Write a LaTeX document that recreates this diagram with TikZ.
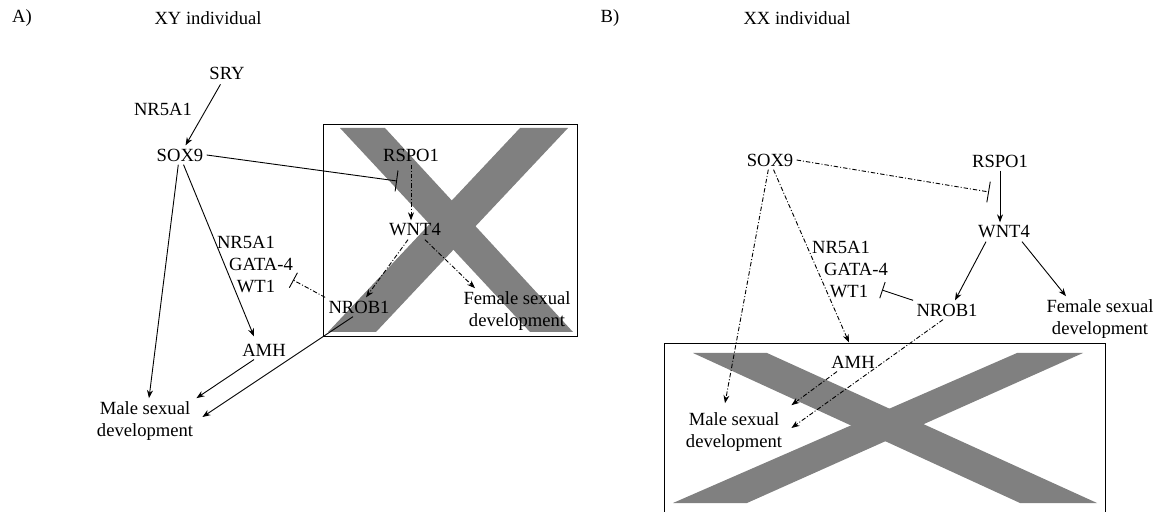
\documentclass[tikz,border=0pt]{standalone}
\usepackage{fontspec}
\setmainfont{Liberation Serif}
\usetikzlibrary{arrows.meta,positioning}

\definecolor{xgray}{RGB}{128,128,128}
\newcommand{\genesize}{\fontsize{9.3}{11}\selectfont}

\tikzset{
  gene/.style={inner sep=1.5pt, font=\genesize},
  genetwo/.style={gene, align=center},
  act/.style={-{Stealth[length=4pt,width=3pt]}, line width=0.45pt},
  inh/.style={-{Bar[width=10.5pt]}, line width=0.45pt},
  inhs/.style={-{Bar[width=8.5pt]}, line width=0.45pt},
  ddline/.style={dash pattern=on 2.2pt off 1pt on 0.5pt off 1pt},
  xband/.style={fill=xgray, draw=none},
}

\begin{document}
\begin{tikzpicture}[x=0.5pt, y=-0.5pt]
  \useasboundingbox (0,0) rectangle (1165,512);

  % Crossed-out boxes
  \fill[xband] (340,128) -- (385,128) -- (573,332) -- (530,332) -- cycle;
  \fill[xband] (520,128) -- (568,128) -- (376,332) -- (328,332) -- cycle;
  \draw[line width=0.5pt] (323,125) rectangle (577,337);
  \fill[xband] (693,353) -- (767,353) -- (1097,503) -- (1020,503) -- cycle;
  \fill[xband] (1017,353) -- (1083,353) -- (747,503) -- (673,503) -- cycle;
  \draw[line width=0.5pt] (664,512) |- (1105,344) -- (1105,512);

  % Define nodes (A)
  \node[gene]                              (panA)   at (22,18)   {A)};
  \node[gene]                              (titleA) at (208,18)  {XY individual};
  \node[gene]                              (sryA)   at (227,73)  {SRY};
  \node[gene]                              (nrsA)   at (163,109) {NR5A1};
  \node[gene]                              (soxA)   at (180,155) {SOX9};
  \node[gene]                              (rspoA)  at (411,155) {RSPO1};
  \node[gene]                              (wntA)   at (415,230) {WNT4};
  \node[genetwo]                           (femA)   at (517,311) {Female sexual\\development};
  \node[gene]                              (nrobA)  at (359,307) {NROB1};
  \node[gene]                              (nr1A)   at (246,242) {NR5A1};
  \node[gene, below=1.8pt of nr1A, xshift=7.5pt]  (gataA) {GATA-4};
  \node[gene, below=1.3pt of gataA, xshift=-2.5pt] (wt1A) {WT1};
  \node[gene]                              (amhA)   at (264,350) {AMH};
  \node[genetwo]                           (maleA)  at (145,421) {Male sexual\\development};
  \coordinate (rspoA-hit) at (397,181);
  \coordinate (wtA-hit)   at (293,280);

  % Define nodes (B)
  \node[gene]                              (panB)   at (610,18)  {B)};
  \node[gene]                              (titleB) at (797,18)  {XX individual};
  \node[gene]                              (soxB)   at (770,160) {SOX9};
  \node[gene]                              (rspoB)  at (1000,161) {RSPO1};
  \node[gene]                              (wntB)   at (1004,232) {WNT4};
  \node[genetwo]                           (femB)   at (1100,319) {Female sexual\\development};
  \node[gene]                              (nrobB)  at (947,310) {NROB1};
  \node[gene]                              (nr1B)   at (841,247) {NR5A1};
  \node[gene, below=1.8pt of nr1B, xshift=7.5pt]  (gataB) {GATA-4};
  \node[gene, below=1.3pt of gataB, xshift=-3.5pt] (wt1B) {WT1};
  \node[gene]                              (amhB)   at (853,362) {AMH};
  \node[genetwo]                           (maleB)  at (734,432) {Male sexual\\development};
  \coordinate (rspoB-hit) at (989,192);
  \coordinate (wtB-hit)   at (882,290);

  % Connect the nodes (A)
  \draw[act, shorten <=1pt] (sryA) -- (soxA);
  \draw[inh] (soxA.east) -- (rspoA-hit);
  \draw[act, ddline] (rspoA.south) -- (rspoA.south |- wntA.north);
  \draw[act, ddline] (wntA) -- (nrobA);
  \draw[act, ddline] (wntA) -- ([xshift=-21pt]femA.north);
  \draw[inhs, ddline] (nrobA.north west) -- (wtA-hit);
  \draw[act] (soxA.-70) -- ([xshift=-5pt,yshift=2pt]amhA.north);
  \draw[act] (soxA.-100) -- ([xshift=2pt]maleA.north);
  \draw[act] ([xshift=-5pt]amhA.south) -- (maleA.north east);
  \draw[act] ([xshift=-3pt]nrobA.south) -- ([xshift=3pt,yshift=2pt]maleA.east);

  % Connect the nodes (B)
  \draw[inh, ddline] (soxB.east) -- (rspoB-hit);
  \draw[act] (rspoB.south) -- (rspoB.south |- wntB.north);
  \draw[act] ([xshift=-9pt]wntB.south) -- ([xshift=4pt]nrobB.north);
  \draw[act] ([xshift=9pt]wntB.south) -- ([xshift=-17pt]femB.north);
  \draw[inhs] (nrobB.north west) -- (wtB-hit);
  \draw[act, ddline] (soxB.-70) -- ([xshift=-2pt,yshift=5pt]amhB.north);
  \draw[act, ddline] (soxB.-100) -- ([xshift=-4.5pt,yshift=3pt]maleB.north);
  \draw[act, ddline] ([xshift=-8pt]amhB.south) -- ([xshift=3pt,yshift=2pt]maleB.north east);
  \draw[act, ddline] ([xshift=-2pt]nrobB.south) -- ([xshift=3pt,yshift=2pt]maleB.east);

\end{tikzpicture}
\end{document}
